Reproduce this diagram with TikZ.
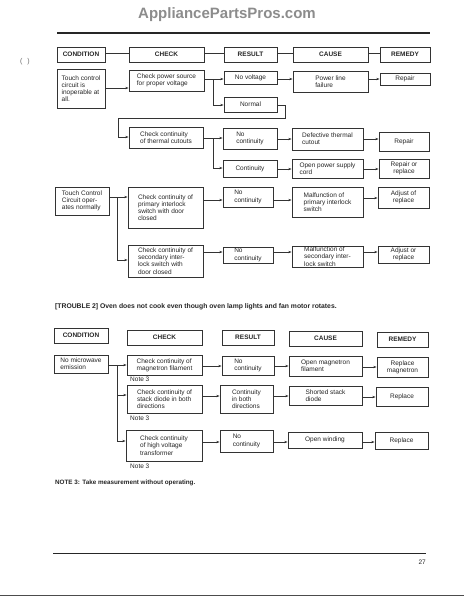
\documentclass[tikz,border=0pt]{standalone}
\usepackage{fontspec}
\setmainfont{Liberation Sans}
\usetikzlibrary{arrows.meta}
\tikzset{
 bx/.style={draw=black!80, line width=0.6pt, rectangle, inner xsep=1pt, inner ysep=0pt, align=left, font=\fontsize{6.5}{7.2}\selectfont, text=black!85},
 hd/.style={bx, align=center, font=\fontsize{6.5}{7.2}\selectfont\bfseries},
 arr/.style={draw=black!80, line width=0.5pt, -{Stealth[length=3.5pt,width=2.2pt]}},
 ln/.style={draw=black!80, line width=0.5pt},
 note/.style={anchor=west, inner sep=0pt, font=\fontsize{6.5}{7.2}\selectfont, text=black!85},
}
\newcommand{\bx}[7][bx]{\node[#1, minimum width={#5-#3}, minimum height={#6-#4}] (#2) at ({(#3+#5)/2},{(#4+#6)/2}) {#7};}
\begin{document}
\begin{tikzpicture}[x=1pt,y=-1pt]
\useasboundingbox[fill=white] (0,0) rectangle (464,600);
% title and rules
\node[font=\fontsize{15}{18}\selectfont\bfseries, text=black!45] (title) at (227,15) {AppliancePartsPros.com};
\draw[line width=1.8pt, black!85] (57,33) -- (430,33);
\node[text=black!60, font=\fontsize{7}{8}\selectfont] (hole) at (25,62) {(\hspace{5pt})};
% ---- section 1 headers
\bx[hd]{h1}{57}{47}{105}{62}{CONDITION}
\bx[hd]{h2}{129}{47}{204}{62}{CHECK}
\bx[hd]{h3}{224}{47}{277}{62}{RESULT}
\bx[hd]{h4}{293}{47}{368}{62}{CAUSE}
\bx[hd]{h5}{380}{47}{430}{62}{REMEDY}
\draw[ln] (h1.east|-0,53) -- (h2.west|-0,53);
\draw[ln] (h2.east|-0,53) -- (h3.west|-0,53);
\draw[ln] (h3.east|-0,53) -- (h4.west|-0,53);
\draw[ln] (h4.east|-0,53) -- (h5.west|-0,53);
% row 1
\bx{a1}{57}{69}{105}{108}{Touch control\\circuit is\\inoperable at\\all.}
\bx{a2}{129}{70}{204}{91}{Check power source\\for proper voltage}
\bx[hd,font=\fontsize{6.5}{7.2}\selectfont]{a3}{224}{71}{277}{84}{No voltage}
\bx{a4}{293}{71}{368}{92}{Power line\\failure}
\bx[hd,font=\fontsize{6.5}{7.2}\selectfont]{a5}{380}{73}{430}{85}{Repair}
\bx[hd,font=\fontsize{6.5}{7.2}\selectfont]{a6}{224}{97}{277}{112}{Normal}
\draw[arr] (a1.east|-0,88) -- (a2.west|-0,88);
\draw[arr] (a2.east|-0,79) -- (a3.west|-0,79);
\coordinate (j1) at (213,79);
\draw[arr] (j1) |- (a6.west|-0,105);
\draw[arr] (a3.east|-0,79) -- (a4.west|-0,79);
\draw[arr] (a4.east|-0,79) -- (a5.west|-0,79);
% row 2
\bx{b1}{129}{127}{203}{148}{Check continuity\\of thermal cutouts}
\bx{b2}{223}{128}{277}{149}{No\\continuity}
\bx{b3}{292}{128}{363}{150}{Defective thermal\\cutout}
\bx[hd,font=\fontsize{6.5}{7.2}\selectfont]{b4}{379}{132}{429}{151}{Repair}
\bx[hd,font=\fontsize{6.5}{7.2}\selectfont]{b5}{223}{160}{277}{177}{Continuity}
\bx{b6}{292}{159}{363}{178}{Open power supply\\cord}
\bx[hd,font=\fontsize{6.5}{7.2}\selectfont]{b7}{379}{159}{429}{178}{Repair or\\replace}
\draw[arr] (a6.east|-0,105) -- (285,105) -- (285,118) -- (118,118) -- (118,137) -- (b1.west|-0,137);
\draw[arr] (b1.east|-0,138) -- (b2.west|-0,138);
\coordinate (j2) at (213,138);
\draw[arr] (j2) |- (b5.west|-0,168);
\draw[arr] (b2.east|-0,139) -- (b3.west|-0,139);
\draw[arr] (b3.east|-0,139) -- (b4.west|-0,139);
\draw[arr] (b5.east|-0,169) -- (b6.west|-0,169);
\draw[arr] (b6.east|-0,169) -- (b7.west|-0,169);
% row 3
\bx{c1}{55}{187}{109}{215}{Touch Control\\Circuit oper-\\ates normally}
\bx{c2}{128}{187}{203}{228}{Check continuity of\\primary interlock\\switch with door\\closed}
\bx{c3}{223}{187}{273}{207}{No\\continuity}
\bx{c4}{292}{187}{363}{217}{Malfunction of\\primary interlock\\switch}
\bx[hd,font=\fontsize{6.5}{7.2}\selectfont]{c5}{378}{187}{429}{208}{Adjust of\\replace}
\bx{c6}{128}{245}{203}{277}{Check continuity of\\secondary inter-\\lock switch with\\door closed}
\bx{c7}{223}{247}{273}{263}{No\\continuity}
\bx{c8}{292}{246}{363}{267}{Malfunction of\\secondary inter-\\lock switch}
\bx[hd,font=\fontsize{6.5}{7.2}\selectfont]{c9}{378}{246}{429}{263}{Adjust or\\replace}
\draw[arr] (c1.east|-0,197) -- (c2.west|-0,197);
\coordinate (j3) at (117,197);
\draw[arr] (j3) |- (c6.west|-0,260);
\draw[arr] (c2.east|-0,200) -- (c3.west|-0,200);
\draw[arr] (c3.east|-0,200) -- (c4.west|-0,200);
\draw[arr] (c4.east|-0,198) -- (c5.west|-0,198);
\draw[arr] (c6.east|-0,252) -- (c7.west|-0,252);
\draw[arr] (c7.east|-0,252) -- (c8.west|-0,252);
\draw[arr] (c8.east|-0,252) -- (c9.west|-0,252);
% ---- section 2
\node[anchor=west, inner sep=0pt, font=\fontsize{6.8}{8}\selectfont\bfseries, text=black!85] (t2) at (55,307) {[TROUBLE 2] Oven does not cook even though oven lamp lights and fan motor rotates.};
\bx[hd]{d1}{54}{328}{108}{343}{CONDITION}
\bx[hd]{d2}{127}{330}{202}{345}{CHECK}
\bx[hd]{d3}{222}{330}{274}{345}{RESULT}
\bx[hd]{d4}{289}{331}{362}{346}{CAUSE}
\bx[hd]{d5}{377}{332}{428}{347}{REMEDY}
\bx{e1}{54}{355}{108}{373}{No microwave\\emission}
\bx{e2}{127}{355}{202}{375}{Check continuity of\\magnetron filament}
\node[note] (n1) at (130,379) {Note 3};
\bx{e3}{222}{356}{274}{375}{No\\continuity}
\bx{e4}{289}{356}{362}{376}{Open magnetron\\filament}
\bx[hd,font=\fontsize{6.5}{7.2}\selectfont]{e5}{377}{357}{428}{377}{Replace\\magnetron}
\draw[arr] (e1.east|-0,365) -- (e2.west|-0,365);
\draw[arr] (e2.east|-0,366) -- (e3.west|-0,366);
\draw[arr] (e3.east|-0,366) -- (e4.west|-0,366);
\draw[arr] (e4.east|-0,367) -- (e5.west|-0,367);
\coordinate (j4) at (117,365);
\bx{f1}{127}{385}{202}{413}{Check continuity of\\stack diode in both\\directions}
\node[note] (n2) at (130,418) {Note 3};
\bx{f2}{220}{385}{273}{413}{Continuity\\in both\\directions}
\bx{f3}{289}{386}{362}{405}{Shorted stack\\diode}
\bx[hd,font=\fontsize{6.5}{7.2}\selectfont]{f4}{376}{387}{428}{406}{Replace}
\draw[arr] (j4) |- (f1.west|-0,395);
\draw[arr] (f1.east|-0,396) -- (f2.west|-0,396);
\draw[arr] (f2.east|-0,396) -- (f3.west|-0,396);
\draw[arr] (f3.east|-0,397) -- (f4.west|-0,397);
\bx{g1}{126}{430}{202}{461}{Check continuity\\of high voltage\\transformer}
\node[note] (n3) at (130,466) {Note 3};
\bx{g2}{220}{430}{273}{452}{No\\continuity}
\bx[hd,font=\fontsize{6.5}{7.2}\selectfont]{g3}{288}{432}{362}{448}{Open winding}
\bx[hd,font=\fontsize{6.5}{7.2}\selectfont]{g4}{375}{432}{428}{449}{Replace}
\draw[arr] (j4) |- (g1.west|-0,441);
\draw[arr] (g1.east|-0,442) -- (g2.west|-0,442);
\draw[arr] (g2.east|-0,442) -- (g3.west|-0,442);
\draw[arr] (g3.east|-0,442) -- (g4.west|-0,442);
\node[anchor=west, inner sep=0pt, font=\fontsize{6.3}{8}\selectfont\bfseries, text=black!85] (nt) at (55,483) {NOTE 3: Take measurement without operating.};
% bottom
\draw[line width=1pt, black!85] (53,553) -- (426,553);
\node[anchor=east, inner sep=0pt, font=\fontsize{6.5}{8}\selectfont, text=black!85] (pg) at (426,562) {27};
\draw[line width=0.8pt, black!70] (0,595) -- (464,595);
\end{tikzpicture}
\end{document}
